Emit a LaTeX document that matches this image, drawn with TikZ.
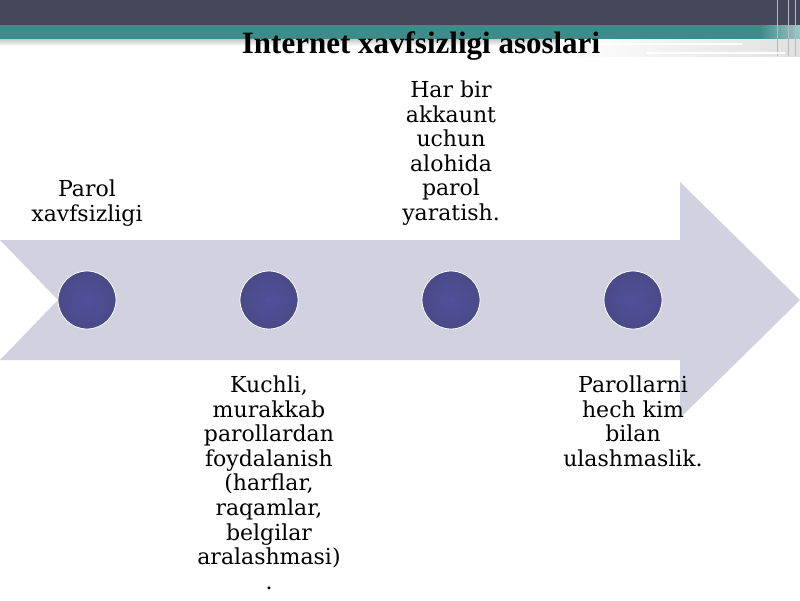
\documentclass[tikz,border=0pt]{standalone}
\usepackage{fontspec}
\setmainfont{DejaVu Serif}
\newfontfamily\titlefont{Liberation Serif}
\definecolor{hdark}{HTML}{45475A}
\definecolor{hteal}{HTML}{3E8C8A}
\definecolor{arrowfill}{HTML}{D1D1DF}
\definecolor{dotfill}{HTML}{4A4A88}
\definecolor{dotinner}{HTML}{50509C}
\begin{document}
\begin{tikzpicture}[x=1pt,y=-1pt,
  dot/.style={circle,minimum size=58pt,inner sep=0pt,draw=white,line width=0.8pt,
     inner color=dotinner,outer color=dotfill},
  label/.style={align=center,inner sep=0pt,anchor=north,
     font=\fontsize{22}{24.6}\selectfont,text=black},
  titlestyle/.style={inner sep=0pt,anchor=base,font=\titlefont\bfseries\fontsize{31}{36}\selectfont},
  vline/.style={gray!55,line width=0.7pt}]
\useasboundingbox (0,0) rectangle (800,600);
\fill[white] (0,0) rectangle (800,600);
% header
\fill[hdark] (0,0) rectangle (800,25);
\fill[hteal] (0,25) rectangle (800,39);
\shade[left color=hteal,right color=hteal!50!white] (760,25) rectangle (800,39);
\shade[top color=black!22,bottom color=white] (0,39) rectangle (800,46);
\shade[left color=white,right color=black!12] (560,39) rectangle (800,56);
\foreach \xx in {777,788,795}{\draw[vline] (\xx,0) -- (\xx,56);}
\draw[gray!50,line width=2.4pt] (598,44) -- (742,44);
\draw[white,line width=1.4pt] (598,44) -- (742,44);
\draw[gray!50,line width=2.4pt] (647,53) -- (785,53);
\draw[white,line width=1.4pt] (647,53) -- (785,53);
\node[titlestyle] (title) at (421,53) {Internet xavfsizligi asoslari};
% arrow
\fill[arrowfill] (0,240) -- (680,240) -- (680,182) -- (800,300) -- (680,418)
   -- (680,360) -- (0,360) -- (58,300) -- cycle;
% dots
\node[dot] (c1) at (87,300) {};
\node[dot] (c2) at (269,300) {};
\node[dot] (c3) at (451,300) {};
\node[dot] (c4) at (633,300) {};
% labels
\node[label] (t1) at (87,179.5) {Parol\\xavfsizligi};
\node[label] (t3) at (451,80.5) {Har bir\\akkaunt\\uchun\\alohida\\parol\\yaratish.};
\node[label] (t2) at (269,375.5) {Kuchli,\\murakkab\\parollardan\\foydalanish\\(harflar,\\raqamlar,\\belgilar\\aralashmasi)\\.};
\node[label] (t4) at (633,375.5) {Parollarni\\hech kim\\bilan\\ulashmaslik.};
\end{tikzpicture}
\end{document}
